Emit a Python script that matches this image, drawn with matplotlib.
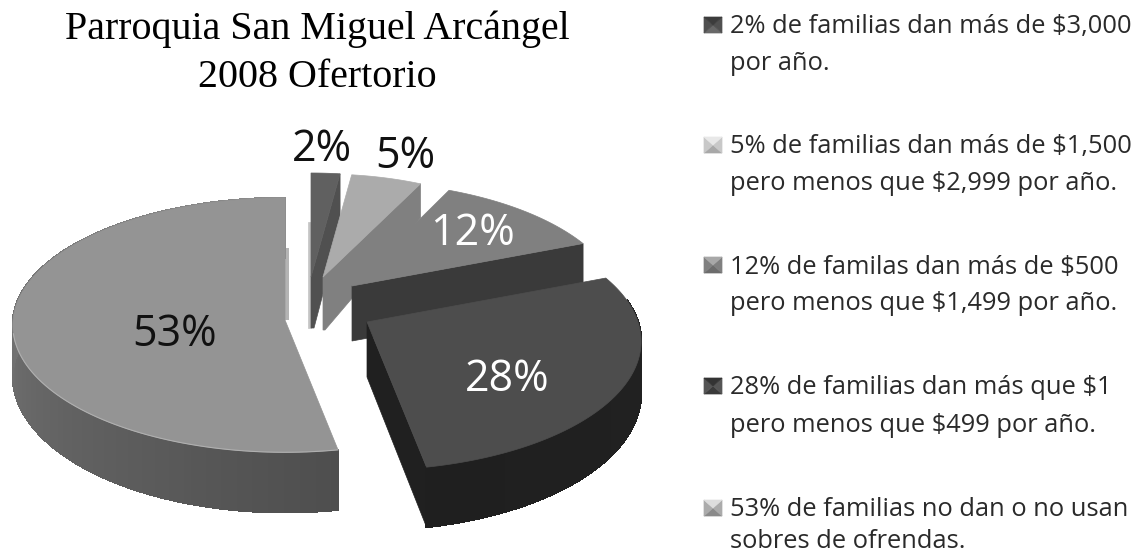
import numpy as np
import matplotlib
matplotlib.use('Agg')
import matplotlib.pyplot as plt
from matplotlib.patches import Polygon
from matplotlib.collections import PolyCollection
from matplotlib.colors import to_rgb

# porcentajes, en el orden del pastel (desde arriba, sentido del reloj)
values = [2, 5, 12, 28, 53]
labels = ['2%', '5%', '12%', '28%', '53%']
title_lines = ['Parroquia San Miguel Arcángel', '2008 Ofertorio']
legend_lines = [
    ['2% de familias dan más de $3,000', 'por año.'],
    ['5% de familias dan más de $1,500', 'pero menos que $2,999 por año.'],
    ['12% de familas dan más de $500', 'pero menos que $1,499 por año.'],
    ['28% de familias dan más que $1', 'pero menos que $499 por año.'],
    ['53% de familias no dan o no usan', 'sobres de ofrendas.'],
]

# geometria de cada porcion en pixeles (explosion y perspectiva)
apex_x = [311, 323, 352, 367, 285]
apex_y = [277, 277, 286, 322, 320]
radius_x = [232, 229, 265, 271, 272]
radius_y = [104, 103, 123, 126, 127]
persp = [0.0, 0.0, 0.18, 0.15, 0.04]
top_colors = ['#606060', '#ababab', '#808080', '#4d4d4d', '#949494']
label_x = [322, 405, 472, 507, 175]
label_y = [150, 157, 234, 380, 335]
label_colors = ['#111111', '#111111', 'white', 'white', '#111111']
legend_y = [27, 147, 267, 388, 510]
marker_top = ['#3c3c3c', '#e8e8e8', '#a8a8a8', '#333333', '#dddddd']
marker_side = ['#505050', '#c8c8c8', '#808080', '#555555', '#ababab']
marker_bottom = ['#686868', '#a8a8a8', '#6c6c6c', '#3a3a3a', '#8a8a8a']

fig = plt.figure(figsize=(11.42, 5.57), dpi=100)
ax = fig.add_axes([0, 0, 1, 1])
ax.set_xlim(0, 1142)
ax.set_ylim(557, 0)
ax.axis('off')


def proj(i, theta, drop=0):
    # theta en grados desde arriba, sentido del reloj
    t = np.radians(theta)
    d = 1 + persp[i] * np.cos(t)
    x = apex_x[i] + radius_x[i] * np.sin(t) / d
    y = apex_y[i] - radius_y[i] * np.cos(t) / d + drop
    return np.column_stack([x, y])


def wall(i, t0, t1, h_side, h_front, c0, c1):
    # pared exterior, tiras con degradado
    th = np.linspace(t0, t1, 120)
    h = h_side + (h_front - h_side) * np.abs(np.cos(np.radians(th)))
    up = proj(i, th)
    low = proj(i, th, h)
    c0 = np.array(to_rgb(c0))
    c1 = np.array(to_rgb(c1))
    polys, cols = [], []
    for k in range(len(th) - 1):
        polys.append([up[k], up[k + 1], low[k + 1], low[k]])
        cols.append(c0 + (c1 - c0) * k / (len(th) - 2))
    ax.add_collection(PolyCollection(polys, facecolors=cols, edgecolors=cols, linewidths=1, antialiased=False))


def top_face(i, t0, t1):
    arc = proj(i, np.linspace(t0, t1, 120))
    pts = np.vstack([[apex_x[i], apex_y[i]], arc])
    ax.add_patch(Polygon(pts, closed=True, fc=top_colors[i], ec=top_colors[i], lw=0.5))


def side(pts, color):
    ax.add_patch(Polygon(pts, closed=True, fc=color, ec=color, lw=0.5))


edges = np.cumsum([0] + values) * 3.6

# 53%
a = np.array([apex_x[4], apex_y[4]])
ax.add_patch(Polygon([a + [0, -72], a + [4, -72], a + [4, 0], a], closed=True, fc='#b4b4b4', ec='none'))
wall(4, edges[4], edges[5], 50, 60, '#4e4e4e', '#8c8c8c')
top_face(4, edges[4], edges[5])
rim = proj(4, np.linspace(edges[4], edges[5], 120))
ax.plot(rim[:60, 0], rim[:60, 1], color='#b0b0b0', lw=0.8)

# 2%
a = np.array([apex_x[0], apex_y[0]])
side([a + [-3, -55], a + [0, -55], a + [0, 51], a + [-3, 51]], '#c4c4c4')
end = proj(0, edges[1])[0]
side([a, end, end + [0, 55], a + [3, 51], a + [0, 51]], '#505050')
top_face(0, edges[0], edges[1])

# 5%
a = np.array([apex_x[1], apex_y[1]])
end = proj(1, edges[2])[0]
side([a, end, end + [0, 34], a + [2, 53], a + [0, 53]], '#808080')
top_face(1, edges[1], edges[2])

# 12%
a = np.array([apex_x[2], apex_y[2]])
end = proj(2, edges[3])[0]
side([a, end, end + [0, 55], a + [0, 55]], '#3a3a3a')
top_face(2, edges[2], edges[3])

# 28%
a = np.array([apex_x[3], apex_y[3]])
end = proj(3, edges[4])[0]
side([a, end, end + [0, 60], a + [0, 55]], '#202020')
wall(3, 80, edges[4], 50, 60, '#222222', '#1f1f1f')
top_face(3, edges[3], edges[4])

for i in range(len(values)):
    ax.text(label_x[i], label_y[i], labels[i], color=label_colors[i], fontsize=31,
            family='Open Sans', ha='center', va='center')

ax.text(317, 39, title_lines[0], fontsize=28.8, family='Liberation Serif', ha='center', va='baseline', color='black')
ax.text(317, 87, title_lines[1], fontsize=28.8, family='Liberation Serif', ha='center', va='baseline', color='black')

for i, lines in enumerate(legend_lines):
    y = legend_y[i]
    # marcador con bisel, cuatro triangulos
    x0, x1, y0, y1 = 704, 722, y - 10, y + 6
    xc, yc = (x0 + x1) / 2, (y0 + y1) / 2
    side([[x0, y1], [xc, yc], [x1, y1]], marker_bottom[i])
    side([[x0, y0], [xc, yc], [x0, y1]], marker_side[i])
    side([[x1, y0], [xc, yc], [x1, y1]], marker_side[i])
    side([[x0, y0], [xc, yc], [x1, y0]], marker_top[i])
    ax.text(730, y, lines[0], fontsize=18.4, family='Open Sans', va='center', color='#2a2a2a')
    ax.text(730, min(y + 37, 542), lines[1], fontsize=18.4, family='Open Sans', va='center', color='#2a2a2a')

fig.savefig('out.png', dpi=100, facecolor='white')
